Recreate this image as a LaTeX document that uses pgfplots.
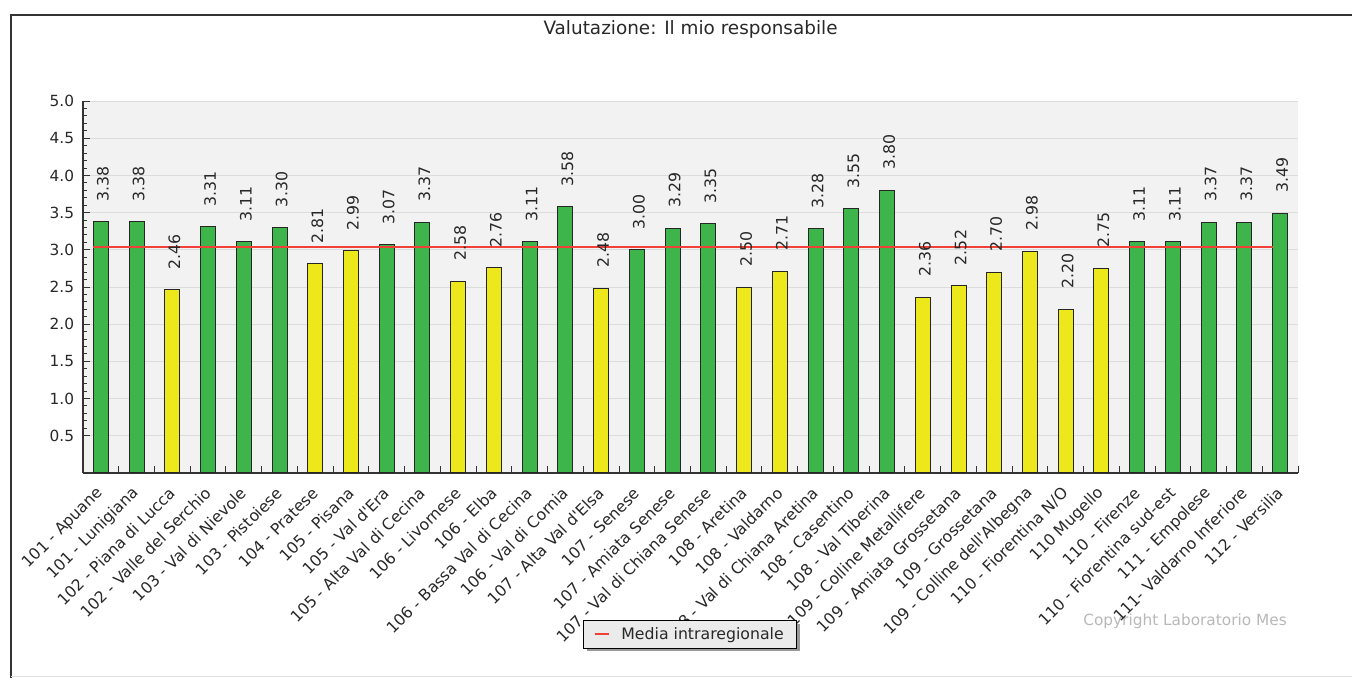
\documentclass[border=0pt]{standalone}
\usepackage{fontspec}
\setmainfont{DejaVu Sans}
\usepackage{pgfplots}
\pgfplotsset{compat=1.18}
\definecolor{bargreen}{RGB}{61,181,74}
\definecolor{baryellow}{RGB}{237,232,28}
\definecolor{plotbg}{RGB}{242,242,242}
\definecolor{gridc}{RGB}{220,220,220}
\definecolor{meanred}{RGB}{240,64,56}
\definecolor{txt}{RGB}{40,40,40}
\begin{document}
\begin{tikzpicture}
\useasboundingbox (0,0) rectangle (1014pt,508.5pt);
\draw[line width=1.3pt, black!80] (8.25pt,0pt) -- (8.25pt,497.25pt) -- (1014pt,497.25pt);
\draw[black!12, line width=0.75pt] (8.25pt,1pt) -- (1014pt,1pt);
\node[font=\fontsize{13.8}{16}\selectfont, text=txt] at (517.9pt,486.8pt) {Valutazione: Il mio responsabile};
\node[anchor=east, text=black!28, font=\fontsize{11.5}{13}\selectfont, inner sep=0pt] at (965.25pt,42.75pt) {Copyright Laboratorio Mes};
\begin{axis}[
  at={(62.25pt,153.8pt)}, anchor=south west,
  width=911.25pt, height=278.9pt, scale only axis,
  xmin=-0.5, xmax=33.5, ymin=0, ymax=5,
  axis x line=bottom, axis y line=left,
  axis line style={-, black!80, line width=0.9pt},
  axis background/.style={fill=plotbg},
  clip=false,
  tick align=inside,
  major tick length=5.25pt, minor tick length=3pt,
  tick style={black!80, line width=0.75pt},
  /pgf/number format/assume math mode=true,
  ytick={0.5,1,...,5}, minor y tick num=4,
  yticklabel style={/pgf/number format/fixed, /pgf/number format/fixed zerofill, /pgf/number format/precision=1, font=\fontsize{11.5}{13}\selectfont, text=txt, inner sep=0pt, xshift=-6.5pt},
  ymajorgrids, grid style={gridc, line width=0.75pt},
  xtick={-0.5,0.5,...,33.5}, xticklabels={},
  extra x ticks={0,1,...,33},
  extra x tick style={tick style={draw=none}, xticklabel style={yshift=-13pt, xshift=0pt, rotate=45, anchor=east, inner sep=0pt, font=\fontsize{11.8}{14}\selectfont, text=txt}},
  extra x tick labels={101 - Apuane,101 - Lunigiana,102 - Piana di Lucca,102 - Valle del Serchio,103 - Val di Nievole,103 - Pistoiese,104 - Pratese,105 - Pisana,105 - Val d\textquotesingle Era,105 - Alta Val di Cecina,106 - Livornese,106 - Elba,106 - Bassa Val di Cecina,106 - Val di Cornia,107 - Alta Val d\textquotesingle Elsa,107 - Senese,107 - Amiata Senese,107 - Val di Chiana Senese,108 - Aretina,108 - Valdarno,108 - Val di Chiana Aretina,108 - Casentino,108 - Val Tiberina,109 - Colline Metallifere,109 - Amiata Grossetana,109 - Grossetana,109 - Colline dell\textquotesingle Albegna,110 - Fiorentina N/O,110 Mugello,110 - Firenze,110 - Fiorentina sud-est,111 - Empolese,111- Valdarno Inferiore,112 - Versilia},
  every node near coord/.append style={xshift=1.5pt, rotate=90, anchor=west, inner xsep=15pt, inner ysep=0pt, font=\fontsize{11.8}{13}\selectfont, text=txt},
  legend style={at={(0.4996,-0.434)}, anchor=center, draw=black, line width=0.9pt, fill=black!8, font=\fontsize{11.8}{13}\selectfont, text=txt, inner xsep=7.5pt, inner ysep=3.2pt},
  legend image code/.code={\draw[meanred, line width=1.6pt] (0pt,0pt) -- (11pt,0pt); \path[draw=none] (0pt,0pt) (18pt,0pt);},
]
\addplot[ybar, bar width=0.42, bar shift=0pt, fill=bargreen, draw=black!85, line width=0.75pt, forget plot,
  nodes near coords={\pgfmathprintnumber[fixed,fixed zerofill,precision=2]{\pgfplotspointmeta}}]
  coordinates {(0,3.38)(1,3.38)(3,3.31)(4,3.11)(5,3.30)(8,3.07)(9,3.37)(12,3.11)(13,3.58)(15,3.00)(16,3.29)(17,3.35)(20,3.28)(21,3.55)(22,3.80)(29,3.11)(30,3.11)(31,3.37)(32,3.37)(33,3.49)};
\addplot[ybar, bar width=0.42, bar shift=0pt, fill=baryellow, draw=black!85, line width=0.75pt, forget plot,
  nodes near coords={\pgfmathprintnumber[fixed,fixed zerofill,precision=2]{\pgfplotspointmeta}}]
  coordinates {(2,2.46)(6,2.81)(7,2.99)(10,2.58)(11,2.76)(14,2.48)(18,2.50)(19,2.71)(23,2.36)(24,2.52)(25,2.70)(26,2.98)(27,2.20)(28,2.75)};
\addplot[meanred, line width=1.5pt, mark=none] coordinates {(-0.21,3.04) (32.79,3.04)};
\addlegendentry{Media intraregionale}
\fill[black!40] (axis description cs:0.4148,-0.4063) rectangle (axis description cs:0.5901,-0.4789);
\end{axis}
\end{tikzpicture}
\end{document}
